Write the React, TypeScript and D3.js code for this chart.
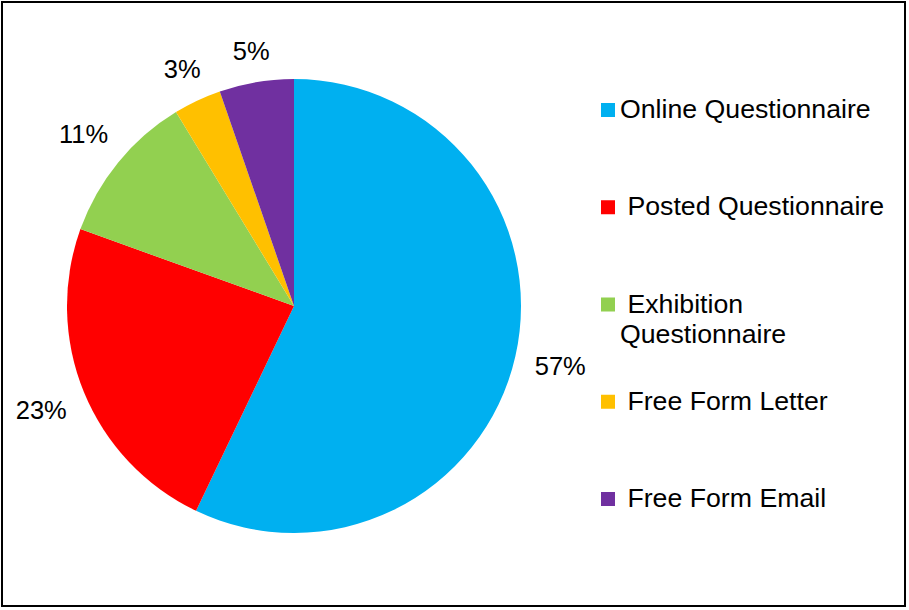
import * as d3 from "d3";

const categories = [
  "Online Questionnaire",
  "Posted Questionnaire",
  "Exhibition Questionnaire",
  "Free Form Letter",
  "Free Form Email",
];
const values = [57.1, 23.4, 10.8, 3.4, 5.3];
const colors = ["#00B0F0", "#FF0000", "#92D050", "#FFC000", "#7030A0"];
// legend text as shown, split into lines
const legendLines = [
  ["Online Questionnaire"],
  [" Posted Questionnaire"],
  [" Exhibition", "Questionnaire"],
  [" Free Form Letter"],
  [" Free Form Email"],
];

const WIDTH = 909;
const HEIGHT = 610;
const CX = 294;
const CY = 306;
const R = 227;
const FONT = "'Liberation Sans', Arial, sans-serif";
const LABEL_SIZE = 25.5;
const LABEL_GAP = 19;
const LEGEND_SIZE = 26.7;

export default function App() {
  const total = d3.sum(values);
  const pie = d3
    .pie<number>()
    .sort(null)
    .value((d) => d);
  const arcs = pie(values);
  const arc = d3.arc<d3.PieArcDatum<number>>().innerRadius(0).outerRadius(R);

  const legendY = d3
    .scalePoint<number>()
    .domain(d3.range(categories.length))
    .range([110, 499]);

  return (
    <svg
      width={WIDTH}
      height={HEIGHT}
      style={{ position: "absolute", left: 0, top: 0, fontFamily: FONT }}
    >
      <rect x={0} y={0} width={WIDTH} height={HEIGHT} fill="#fff" />
      <rect
        x={2}
        y={2}
        width={903}
        height={604}
        fill="none"
        stroke="#000"
        strokeWidth={2}
      />

      <g transform={`translate(${CX},${CY})`}>
        {arcs.map((a, i) => (
          <path key={categories[i]} d={arc(a) ?? undefined} fill={colors[i]} />
        ))}
        {arcs.map((a, i) => {
          const mid = (a.startAngle + a.endAngle) / 2;
          const ux = Math.sin(mid);
          const uy = -Math.cos(mid);
          const txt = `${Math.round((a.value / total) * 100)}%`;
          const w = LABEL_SIZE * (0.556 * (txt.length - 1) + 0.889);
          const h = LABEL_SIZE * 0.75;
          const dist =
            R + LABEL_GAP + Math.abs(ux) * (w / 2) + Math.abs(uy) * (h / 2);
          return (
            <text
              key={"l" + i}
              x={ux * dist}
              y={uy * dist + 9}
              textAnchor="middle"
              fontSize={LABEL_SIZE}
              fill="#000"
            >
              {txt}
            </text>
          );
        })}
      </g>

      {categories.map((c, i) => {
        const y = legendY(i) ?? 0;
        return (
          <g key={"leg" + c}>
            <rect x={601} y={y - 7} width={14} height={14} fill={colors[i]} />
            {legendLines[i].map((line, j) => (
              <text
                key={j}
                x={620}
                y={y + 8 + j * 30}
                fontSize={LEGEND_SIZE}
                fill="#000"
                style={{ whiteSpace: "pre" }}
              >
                {line}
              </text>
            ))}
          </g>
        );
      })}
    </svg>
  );
}
